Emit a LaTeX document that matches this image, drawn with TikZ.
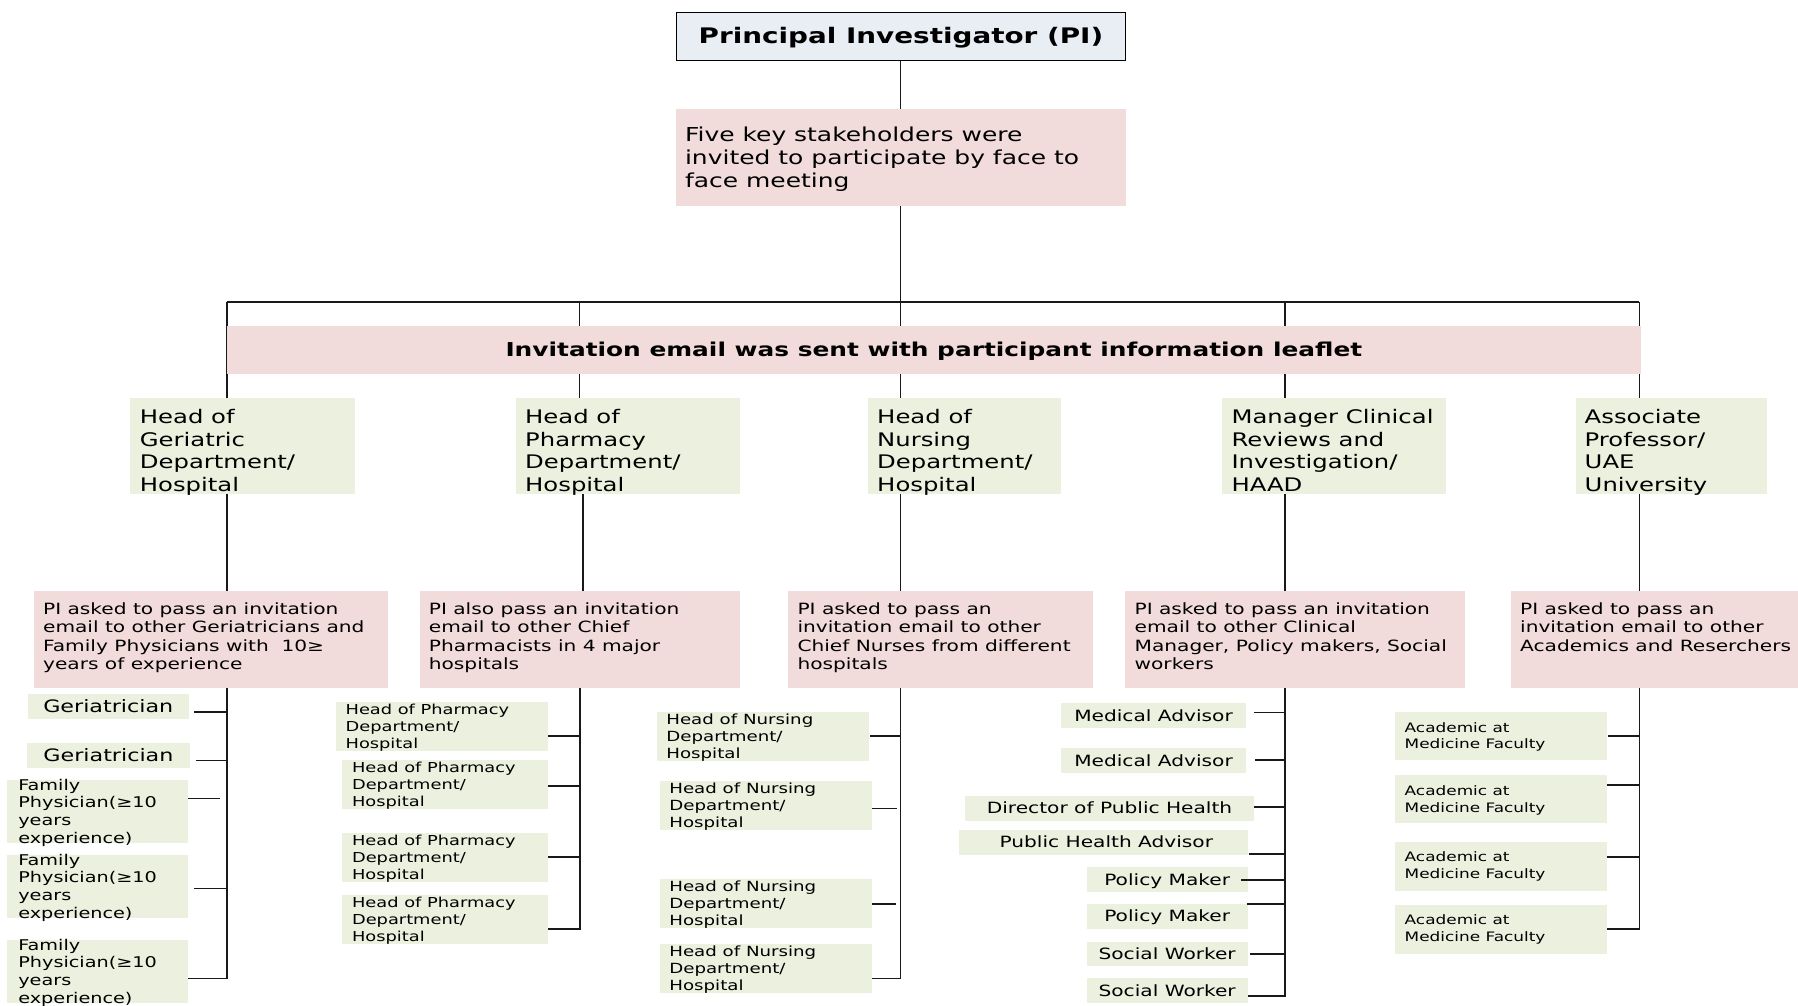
\documentclass[tikz,border=0pt]{standalone}
\usepackage{fontspec}
\setmainfont{DejaVu Sans}
\usepackage{graphicx}
\usetikzlibrary{fit,backgrounds}
\definecolor{pinkc}{HTML}{F2DCDB}
\definecolor{greenc}{HTML}{EBF1DE}
\definecolor{titlec}{HTML}{E9EEF5}
\newcommand\mlt[2][1.3]{\scalebox{#1}[1]{\begin{tabular}[t]{@{}l@{}}#2\end{tabular}}}
\newcommand\olt[2][1.3]{\scalebox{#1}[1]{#2}}
\newcommand\fnt[2]{\fontsize{#1}{#2}\selectfont}
\begin{document}
\begin{tikzpicture}[x=1.14668pt, y=-1.14668pt,
  box/.style={inner sep=0pt, outer sep=0pt},
  pinkb/.style={box, fill=pinkc},
  greenb/.style={box, fill=greenc},
  titleb/.style={box, fill=titlec, draw=black, line width=1.5pt},
  txt/.style={inner sep=0pt, outer sep=0pt, anchor=base west},
  ctxt/.style={inner sep=0pt, outer sep=0pt, anchor=base},
  leafa/.style={ctxt, font={\fnt{17.1}{20}}, yshift=-6.2pt},
  leafb/.style={ctxt, font={\fnt{15.5}{18}}, yshift=-5.6pt},
  ln/.style={line width=1.6pt, draw=black!90}
]
\useasboundingbox (0,0) rectangle (1568,877.3);

% ---------- top ----------
\node[titleb, fit={(590,10.8) (981.5,52.9)}] (pi) {};
\node[ctxt, font={\fnt{21.4}{24}\bfseries}] (pit) at (785.7,37.8) {\olt{Principal Investigator (PI)}};

\node[pinkb, fit={(589.2,95) (982,179.4)}] (sk) {};
\node[txt, font={\fnt{19.2}{23}}] (skt) at (597.4,123.5) {\mlt{Five key stakeholders were\\invited to participate by face to\\face meeting}};

% ---------- heads ----------
\node[greenb, fit={(113.4,347.4) (309.6,431.1)}] (h1) {};
\node[txt, font={\fnt{18.7}{22.8}}] (h1t) at (122,369.2) {\mlt{Head of\\Geriatric\\Department/\\Hospital}};
\node[greenb, fit={(450,347.4) (645.5,431.1)}] (h2) {};
\node[txt, font={\fnt{18.7}{22.8}}] (h2t) at (458,369.2) {\mlt{Head of\\Pharmacy\\Department/\\Hospital}};
\node[greenb, fit={(757,347.4) (925,431.1)}] (h3) {};
\node[txt, font={\fnt{18.7}{22.8}}] (h3t) at (765,369.2) {\mlt{Head of\\Nursing\\Department/\\Hospital}};
\node[greenb, fit={(1066,347.4) (1261,431.1)}] (h4) {};
\node[txt, font={\fnt{18.7}{22.8}}] (h4t) at (1074,369.2) {\mlt{Manager Clinical\\Reviews and\\Investigation/\\HAAD}};
\node[greenb, fit={(1374,347.4) (1541,431.1)}] (h5) {};
\node[txt, font={\fnt{18.7}{22.8}}] (h5t) at (1382,369.2) {\mlt{Associate\\Professor/\\UAE\\University}};

% ---------- column x positions ----------
\coordinate (x1) at (197.7,263.1);
\coordinate (x2) at (505.2,263.1);
\coordinate (x2b) at (508.2,263.1);
\coordinate (x2c) at (505.6,263.1);
\coordinate (x3) at (785.2,263.1);
\coordinate (x4) at (1120.6,263.1);
\coordinate (x5) at (1429.6,263.1);

% ---------- connectors behind the band ----------
\begin{pgfonlayer}{background}
\draw[ln] (x1) -- (h1.north -| x1);
\draw[ln] (x2) -- (h2.north -| x2);
\draw[ln] (sk.south -| x3) -- (h3.north -| x3);
\draw[ln] (x4) -- (h4.north -| x4);
\draw[ln] (x5) -- (h5.north -| x5);
\end{pgfonlayer}
\draw[ln] (pi.south -| x3) -- (sk.north -| x3);
\draw[ln] (x1) -- (x5);

% ---------- band ----------
\node[pinkb, fit={(197.7,284) (1431,326.5)}] (band) {};
\node[ctxt, font={\fnt{19.1}{22}\bfseries}] (bandt) at (814.4,311.3) {\olt{Invitation email was sent with participant information leaflet}};

% ---------- PI boxes ----------
\node[pinkb, fit={(29.6,515.4) (338,599.7)}] (p1) {};
\node[txt, font={\fnt{15.5}{18.5}}] (p1t) at (37.6,535.5) {\mlt{PI asked to pass an invitation\\email to other Geriatricians and\\Family Physicians with~~10≥\\years of experience}};
\node[pinkb, fit={(366,515.4) (645.5,599.7)}] (p2) {};
\node[txt, font={\fnt{15.5}{18.5}}] (p2t) at (374,535.5) {\mlt{PI also pass an invitation\\email to other Chief\\Pharmacists in 4 major\\hospitals}};
\node[pinkb, fit={(687,515.4) (953,599.7)}] (p3) {};
\node[txt, font={\fnt{15.5}{18.5}}] (p3t) at (695.5,535.5) {\mlt{PI asked to pass an\\invitation email to other\\Chief Nurses from different\\hospitals}};
\node[pinkb, fit={(981.5,515.4) (1278,599.7)}] (p4) {};
\node[txt, font={\fnt{15.5}{18.5}}] (p4t) at (989.5,535.5) {\mlt{PI asked to pass an invitation\\email to other Clinical\\Manager, Policy makers, Social\\workers}};
\node[pinkb, fit={(1317.7,515.4) (1568,599.7)}] (p5) {};
\node[txt, font={\fnt{15.5}{18.5}}] (p5t) at (1325.7,535.5) {\mlt{PI asked to pass an\\invitation email to other\\Academics and Reserchers}};

\draw[ln] (h1.south -| x1) -- (p1.north -| x1);
\draw[ln] (h2.south -| x2b) -- (p2.north -| x2b);
\draw[ln] (h3.south -| x3) -- (p3.north -| x3);
\draw[ln] (h4.south -| x4) -- (p4.north -| x4);
\draw[ln] (h5.south -| x5) -- (p5.north -| x5);

% ---------- column 1 ----------
\node[greenb, fit={(24.3,605.2) (164.5,626.7)}] (g1) {};
\node[leafa] (g1t) at (g1.center) {\olt{Geriatrician}};
\node[greenb, fit={(23.7,648.2) (165.4,669.5)}] (g2) {};
\node[leafa] (g2t) at (g2.center) {\olt{Geriatrician}};
\node[greenb, fit={(6.4,680.2) (164.2,734.9)}] (f1) {};
\node[txt, font={\fnt{14.8}{17.6}}] (f1t) at (16,689.2) {\mlt{Family\\Physician(≥10\\years\\experience)}};
\node[greenb, fit={(6.4,745.6) (164.2,800.3)}] (f2) {};
\node[txt, font={\fnt{14.8}{17.6}}] (f2t) at (16,754.6) {\mlt{Family\\Physician(≥10\\years\\experience)}};
\node[greenb, fit={(6.4,819.7) (164.2,874.4)}] (f3) {};
\node[txt, font={\fnt{14.8}{17.6}}] (f3t) at (16,828.7) {\mlt{Family\\Physician(≥10\\years\\experience)}};

\coordinate (g1c) at (169.2,620.9);
\coordinate (g2c) at (170.7,663.1);
\coordinate (f1c) at (164.2,696.2);
\coordinate (f1e) at (191.9,696.2);
\coordinate (f2c) at (169.2,774.7);
\coordinate (f3c) at (164.2,853.2);
\draw[ln] (p1.south -| x1) |- (f3c);
\draw[ln] (g1c) -- (g1c -| x1);
\draw[ln] (g2c) -- (g2c -| x1);
\draw[ln] (f1c) -- (f1e);
\draw[ln] (f2c) -- (f2c -| x1);

% ---------- column 2 ----------
\node[greenb, fit={(293.1,612.2) (477.8,654.6)}] (ph1) {};
\node[txt, font={\fnt{13.7}{17}}] (ph1t) at (301.4,623) {\mlt{Head of Pharmacy\\Department/\\Hospital}};
\node[greenb, fit={(298.1,662.8) (477.8,705.2)}] (ph2) {};
\node[txt, font={\fnt{13.7}{17}}] (ph2t) at (307,673.6) {\mlt{Head of Pharmacy\\Department/\\Hospital}};
\node[greenb, fit={(298.1,726.4) (477.8,768.9)}] (ph3) {};
\node[txt, font={\fnt{13.7}{17}}] (ph3t) at (307,737.2) {\mlt{Head of Pharmacy\\Department/\\Hospital}};
\node[greenb, fit={(298.1,780.5) (477.8,823)}] (ph4) {};
\node[txt, font={\fnt{13.7}{17}}] (ph4t) at (307,791.3) {\mlt{Head of Pharmacy\\Department/\\Hospital}};

\coordinate (ph1c) at (477.8,641.8);
\coordinate (ph2c) at (477.8,685.4);
\coordinate (ph3c) at (477.8,747.4);
\coordinate (ph4c) at (477.8,810.4);
\draw[ln] (p2.south -| x2c) |- (ph4c);
\draw[ln] (ph1c) -- (ph1c -| x2c);
\draw[ln] (ph2c) -- (ph2c -| x2c);
\draw[ln] (ph3c) -- (ph3c -| x2c);

% ---------- column 3 ----------
\node[greenb, fit={(572.8,620.9) (757.4,663.4)}] (n1) {};
\node[txt, font={\fnt{14}{17}}] (n1t) at (581.1,631.7) {\mlt{Head of Nursing\\Department/\\Hospital}};
\node[greenb, fit={(575.4,681.1) (760.1,723.5)}] (n2) {};
\node[txt, font={\fnt{14}{17}}] (n2t) at (583.7,691.9) {\mlt{Head of Nursing\\Department/\\Hospital}};
\node[greenb, fit={(575.4,766.6) (760.1,809)}] (n3) {};
\node[txt, font={\fnt{14}{17}}] (n3t) at (583.7,777.4) {\mlt{Head of Nursing\\Department/\\Hospital}};
\node[greenb, fit={(575.4,823.2) (760.1,865.7)}] (n4) {};
\node[txt, font={\fnt{14}{17}}] (n4t) at (583.7,834) {\mlt{Head of Nursing\\Department/\\Hospital}};

\coordinate (n1c) at (759.1,641.8);
\coordinate (n2c) at (760.8,705.2);
\coordinate (n2e) at (782.4,705.2);
\coordinate (n3c) at (760.1,788.4);
\coordinate (n3e) at (781.4,788.4);
\coordinate (n4c) at (760.1,853.2);
\draw[ln] (p3.south -| x3) |- (n4c);
\draw[ln] (n1c) -- (n1c -| x3);
\draw[ln] (n2c) -- (n2e);
\draw[ln] (n3c) -- (n3e);

% ---------- column 4 ----------
\node[greenb, fit={(925.3,613.3) (1086.6,634.6)}] (ma1) {};
\node[leafb] (ma1t) at (ma1.center) {\olt{Medical Advisor}};
\node[greenb, fit={(925.3,652.6) (1086.6,673.8)}] (ma2) {};
\node[leafb] (ma2t) at (ma2.center) {\olt{Medical Advisor}};
\node[greenb, fit={(841.6,694.2) (1093.6,715.7)}] (dph) {};
\node[leafb] (dpht) at (dph.center) {\olt{Director of Public Health}};
\node[greenb, fit={(836.3,723.8) (1088,745.3)}] (pha) {};
\node[leafb] (phat) at ([xshift=3pt]pha.center) {\olt{Public Health Advisor}};
\node[greenb, fit={(947.7,756.4) (1088,777.6)}] (pm1) {};
\node[leafb] (pm1t) at (pm1.center) {\olt{Policy Maker}};
\node[greenb, fit={(947.7,788.4) (1088,809.9)}] (pm2) {};
\node[leafb] (pm2t) at (pm2.center) {\olt{Policy Maker}};
\node[greenb, fit={(947.7,821.2) (1088,842.1)}] (sw1) {};
\node[leafb] (sw1t) at (sw1.center) {\olt{Social Worker}};
\node[greenb, fit={(947.7,853.2) (1088,874.4)}] (sw2) {};
\node[leafb] (sw2t) at (sw2.center) {\olt{Social Worker}};

\coordinate (ma1c) at (1093.6,621.2);
\coordinate (ma2c) at (1094.5,662.8);
\coordinate (dphc) at (1093.6,703.5);
\coordinate (phac) at (1089.5,744.7);
\coordinate (pm1c) at (1082.3,767.4);
\coordinate (pm2c) at (1087.2,788.6);
\coordinate (sw1c) at (1090.1,832);
\coordinate (sw2c) at (1088,868.6);
\draw[ln] (p4.south -| x4) |- (sw2c);
\draw[ln] (ma1c) -- (ma1c -| x4);
\draw[ln] (ma2c) -- (ma2c -| x4);
\draw[ln] (dphc) -- (dphc -| x4);
\draw[ln] (phac) -- (phac -| x4);
\draw[ln] (pm1c) -- (pm1c -| x4);
\draw[ln] (pm2c) -- (pm2c -| x4);
\draw[ln] (sw1c) -- (sw1c -| x4);

% ---------- column 5 ----------
\node[greenb, fit={(1216.5,621) (1401,663)}] (a1) {};
\node[txt, font={\fnt{13}{16.7}}] (a1t) at (1225,638.6) {\mlt{Academic at\\Medicine Faculty}};
\node[greenb, fit={(1216.5,676) (1401,718)}] (a2) {};
\node[txt, font={\fnt{13}{16.7}}] (a2t) at (1225,693.6) {\mlt{Academic at\\Medicine Faculty}};
\node[greenb, fit={(1216.5,734) (1401,777)}] (a3) {};
\node[txt, font={\fnt{13}{16.7}}] (a3t) at (1225,751.6) {\mlt{Academic at\\Medicine Faculty}};
\node[greenb, fit={(1216.5,789) (1401,832)}] (a4) {};
\node[txt, font={\fnt{13}{16.7}}] (a4t) at (1225,806.6) {\mlt{Academic at\\Medicine Faculty}};

\coordinate (a1c) at (1402,641.8);
\coordinate (a2c) at (1401,684.6);
\coordinate (a3c) at (1401,747.4);
\coordinate (a4c) at (1401,810.4);
\draw[ln] (p5.south -| x5) |- (a4c);
\draw[ln] (a1c) -- (a1c -| x5);
\draw[ln] (a2c) -- (a2c -| x5);
\draw[ln] (a3c) -- (a3c -| x5);
\end{tikzpicture}
\end{document}
